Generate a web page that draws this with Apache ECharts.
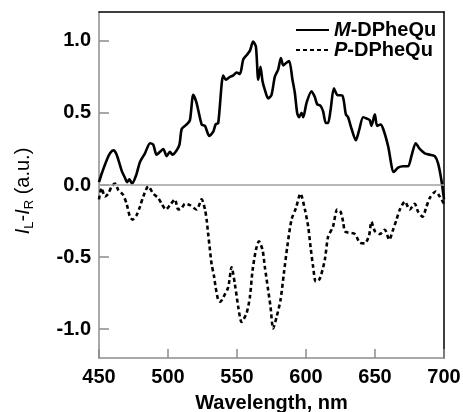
<!DOCTYPE html>
<html><head><meta charset="utf-8">
<script src="https://cdn.jsdelivr.net/npm/echarts@6/dist/echarts.min.js"></script>
<style>html,body{margin:0;padding:0;background:#fff}#c{width:463px;height:412px}</style>
</head><body><div id="c"></div>
<script>
const seriesNames = ['M-DPheQu', 'P-DPheQu'];

const mWavelength = [450,452,455.5,458,460.5,462.8,466.4,468.8,470.3,472,474,477,479.7,483.3,487,489.3,491.7,494.2,496.6,499,501.4,503.2,506.2,508.3,510,513.5,515.9,518.3,520.7,524.4,526.8,529.9,532.8,534.5,536.4,540,542,544.9,547.3,549.7,552.1,554.5,556.9,559.3,561.7,563.7,565.4,567,568.5,570.2,572.6,575,577.4,579.8,581.8,583.5,585.4,587.8,590.2,591.9,593.6,595,596.8,598,600.4,604,606.4,608.1,610.5,612.4,614.4,616,617.8,620.2,622.6,626.4,628.9,630.5,633,636.1,638.5,641.4,644.3,646.2,647.4,649.9,651.5,654,655.9,659.5,663.6,666.7,670.4,674,676.4,679.5,682.4,686.1,689.7,693.3,695.7,698.1,700];
const mValues = [0.02,0.08,0.17,0.22,0.24,0.21,0.10,0.05,0.02,0.04,0.01,0.07,0.16,0.22,0.29,0.28,0.21,0.23,0.25,0.20,0.23,0.21,0.24,0.28,0.39,0.42,0.45,0.625,0.57,0.42,0.41,0.34,0.37,0.42,0.43,0.76,0.73,0.75,0.76,0.78,0.77,0.87,0.90,0.93,0.995,0.96,0.73,0.82,0.72,0.66,0.60,0.625,0.75,0.80,0.88,0.83,0.845,0.86,0.73,0.64,0.50,0.47,0.50,0.47,0.57,0.65,0.61,0.56,0.55,0.51,0.43,0.43,0.52,0.67,0.625,0.62,0.49,0.47,0.39,0.31,0.38,0.47,0.46,0.45,0.41,0.49,0.41,0.42,0.39,0.27,0.09,0.12,0.13,0.13,0.20,0.29,0.25,0.22,0.21,0.20,0.15,0.035,-0.10];

const pWavelength = [450,451.9,454.3,456.7,459.2,461.6,464,467.6,470,472.4,474.3,477.2,479.7,482.1,485.7,489.3,492.9,495.4,498.5,501.4,505,507.4,509.9,512.3,515.9,520.7,524.4,526.8,528,529.1,530.4,531.6,533.3,534.7,536.5,538,540,543.6,546.1,548.5,550.9,553.3,556.9,559.3,561.3,563.7,565.9,568.5,570.2,572.6,574.3,576.2,578.7,581.5,584,586.4,589.5,592.7,596,599.2,601.6,603.3,605.2,607.1,610,613.6,616,619.5,622.6,625,626.9,628.1,630.5,635.4,639,642.6,645.7,647.4,649.9,653.5,657.1,660.3,663.1,665.6,668,671.6,675.2,678.8,681.2,684.4,687.3,689.7,694,696.9,700];
const pValues = [-0.10,-0.02,-0.08,-0.06,-0.01,0.01,-0.035,-0.07,-0.13,-0.22,-0.24,-0.21,-0.15,-0.08,-0.01,-0.06,-0.09,-0.13,-0.17,-0.14,-0.10,-0.17,-0.16,-0.13,-0.14,-0.17,-0.10,-0.17,-0.24,-0.34,-0.45,-0.55,-0.63,-0.72,-0.80,-0.81,-0.78,-0.71,-0.57,-0.69,-0.845,-0.95,-0.89,-0.78,-0.59,-0.45,-0.39,-0.45,-0.57,-0.73,-0.845,-0.995,-0.915,-0.80,-0.61,-0.43,-0.24,-0.16,-0.06,-0.17,-0.29,-0.43,-0.57,-0.67,-0.65,-0.52,-0.36,-0.29,-0.17,-0.185,-0.255,-0.32,-0.33,-0.34,-0.40,-0.405,-0.35,-0.255,-0.32,-0.34,-0.31,-0.38,-0.31,-0.24,-0.17,-0.115,-0.17,-0.13,-0.185,-0.22,-0.15,-0.09,-0.045,-0.08,-0.13];

const xTicks = [450, 500, 550, 600, 650, 700];
const yTicks = [-1.0, -0.5, 0.0, 0.5, 1.0];

const pairs = (xs, ys) => xs.map((x, i) => [x, ys[i]]);
const FONT = 'Liberation Sans';
const AXIS_GRAY = '#8c8c8c';

const legendBase = {
  orient: 'vertical', left: 295, padding: 0,
  itemWidth: 33, itemHeight: 18,
  itemStyle: {opacity: 0},
  formatter: n => '{i|' + n[0] + '}' + n.slice(1),
  textStyle: {
    fontFamily: FONT, fontWeight: 'bold', fontSize: 20, color: '#000',
    rich: {i: {fontFamily: FONT, fontWeight: 'bold', fontStyle: 'italic', fontSize: 20, color: '#000'}}
  }
};

const chart = echarts.init(document.getElementById('c'), null, {renderer: 'canvas'});
chart.setOption({
  animation: false,
  backgroundColor: '#fff',
  grid: {left: 99, right: 19, top: 12, bottom: 54, outerBoundsMode: 'none', containLabel: false},
  legend: [
    Object.assign({}, legendBase, {top: 20, data: [seriesNames[0]]}),
    Object.assign({}, legendBase, {top: 40, data: [seriesNames[1]]})
  ],
  xAxis: [{
    type: 'value', min: 450, max: 700, interval: 50,
    name: 'Wavelength, nm', nameLocation: 'middle', nameGap: 35,
    nameTextStyle: {fontFamily: FONT, fontWeight: 'bold', fontSize: 20, color: '#000'},
    axisLine: {show: true, onZero: false, lineStyle: {color: AXIS_GRAY, width: 1.5}},
    axisTick: {show: true, inside: true, length: 9, customValues: xTicks, lineStyle: {color: AXIS_GRAY, width: 1.5}},
    axisLabel: {customValues: xTicks, margin: 9, fontFamily: FONT, fontWeight: 'bold', fontSize: 20, color: '#000'},
    splitLine: {show: false}
  }, {
    type: 'value', min: 450, max: 700, position: 'top',
    axisLine: {show: true, onZero: false, lineStyle: {color: '#000', width: 1.5}},
    axisTick: {show: false}, axisLabel: {show: false}, splitLine: {show: false}
  }],
  yAxis: [{
    type: 'value', min: -1.2, max: 1.2,
    name: '{i|I}{s|L}{n|-}{i|I}{s|R}{n| (a.u.)}', nameLocation: 'middle', nameRotate: 90, nameGap: 63,
    nameTextStyle: {
      fontFamily: FONT, fontSize: 20, color: '#000', padding: [0, 12, 0, 0],
      rich: {
        i: {fontFamily: FONT, fontSize: 20, fontStyle: 'italic', color: '#000', lineHeight: 26, verticalAlign: 'middle'},
        n: {fontFamily: FONT, fontSize: 20, color: '#000', lineHeight: 26, verticalAlign: 'middle'},
        s: {fontFamily: FONT, fontSize: 13, color: '#000', lineHeight: 26, verticalAlign: 'bottom'}
      }
    },
    axisLine: {show: true, onZero: false, lineStyle: {color: AXIS_GRAY, width: 1.5}},
    axisTick: {show: true, inside: true, length: 10, customValues: yTicks, lineStyle: {color: AXIS_GRAY, width: 1.5}},
    axisLabel: {customValues: yTicks, margin: 8, formatter: v => v.toFixed(1), fontFamily: FONT, fontWeight: 'bold', fontSize: 20, color: '#000'},
    splitLine: {show: false}
  }, {
    type: 'value', min: -1.2, max: 1.2, position: 'right',
    axisLine: {show: true, onZero: false, lineStyle: {color: '#000', width: 1.5}},
    axisTick: {show: false}, axisLabel: {show: false}, splitLine: {show: false}
  }],
  series: [{
    name: seriesNames[0], type: 'line', data: pairs(mWavelength, mValues),
    showSymbol: false, symbol: 'none', smooth: 0.25,
    lineStyle: {color: '#000', width: 2.6, type: 'solid'},
    itemStyle: {color: '#000'},
    markLine: {
      silent: true, symbol: ['none', 'none'], label: {show: false},
      lineStyle: {color: '#a0a0a0', width: 1.5, type: 'solid'},
      data: [{yAxis: 0}]
    },
    z: 3
  }, {
    name: seriesNames[1], type: 'line', data: pairs(pWavelength, pValues),
    showSymbol: false, symbol: 'none', smooth: 0.25,
    lineStyle: {color: '#000', width: 2.6, type: [4, 3]},
    itemStyle: {color: '#000'},
    z: 3
  }]
});
</script>
</body></html>
